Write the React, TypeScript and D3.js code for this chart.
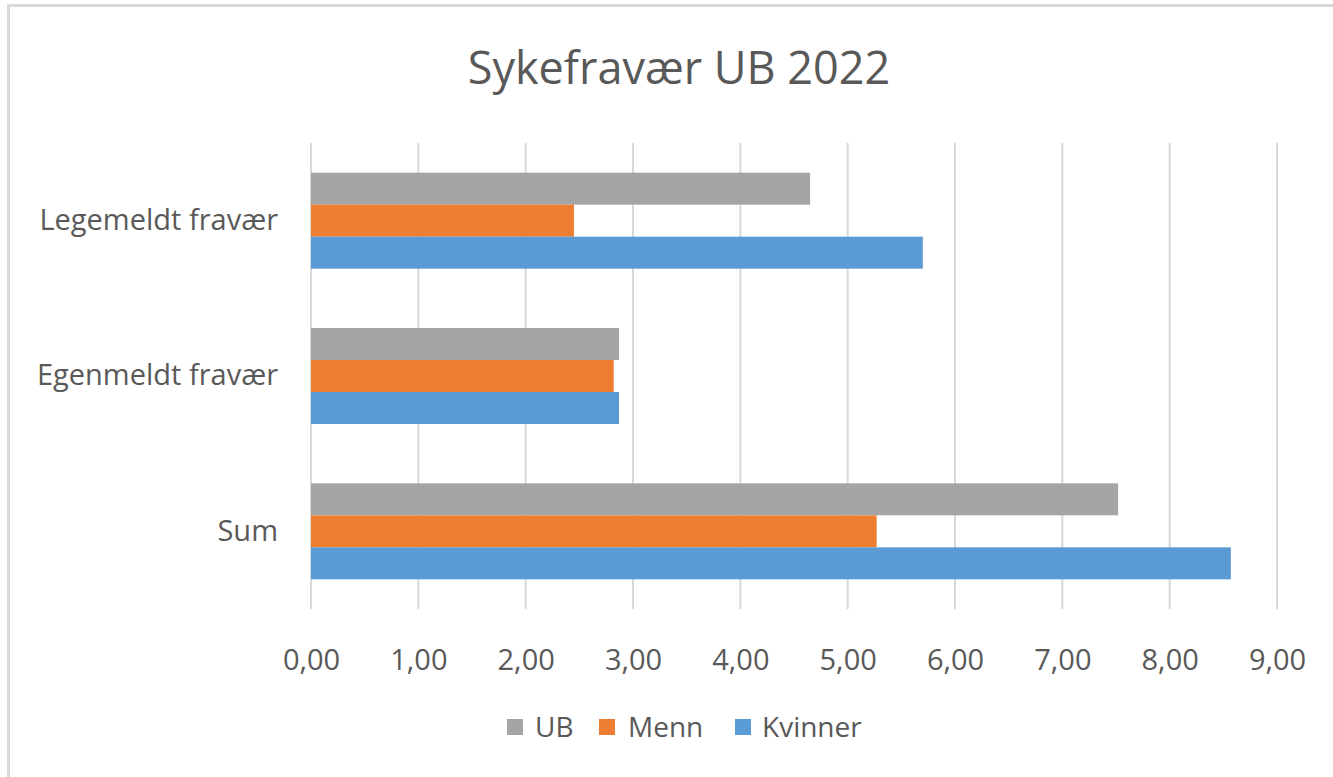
import React, { useEffect, useRef } from "react";
import * as d3 from "d3";

const categories = ["Legemeldt fravær", "Egenmeldt fravær", "Sum"];
const seriesNames = ["UB", "Menn", "Kvinner"];
const ubValues = [4.65, 2.87, 7.52];
const mennValues = [2.45, 2.82, 5.27];
const kvinnerValues = [5.7, 2.87, 8.57];
const seriesColors = ["#a5a5a5", "#ed7d31", "#5b9bd5"];
const xTicks = [0, 1, 2, 3, 4, 5, 6, 7, 8, 9];

const App = () => {
  const svgRef = useRef<SVGSVGElement | null>(null);
  const width = 1333;
  const height = 777;
  const margin = { top: 143, right: 56, bottom: 168, left: 311 };
  const font = "'Open Sans', sans-serif";
  const textColor = "#595959";

  useEffect(() => {
    const svg = d3.select(svgRef.current).attr("width", width).attr("height", height);
    svg.selectAll("*").remove();

    const values = [ubValues, mennValues, kvinnerValues];

    const x = d3
      .scaleLinear()
      .domain([0, 9])
      .range([margin.left, width - margin.right]);

    const y0 = d3
      .scaleBand()
      .domain(categories)
      .range([margin.top, height - margin.bottom])
      .paddingInner(0.382)
      .paddingOuter(0.191);

    const y1 = d3
      .scaleBand()
      .domain(seriesNames)
      .range([0, y0.bandwidth()]);

    const color = d3.scaleOrdinal<string, string>().domain(seriesNames).range(seriesColors);

    // chart border (only top/left visible in the crop)
    svg
      .append("rect")
      .attr("x", 8.5)
      .attr("y", 5.5)
      .attr("width", width + 20)
      .attr("height", height + 20)
      .attr("fill", "white")
      .attr("stroke", "#d9d9d9")
      .attr("stroke-width", 3);

    // title
    svg
      .append("text")
      .attr("x", 679)
      .attr("y", 84)
      .attr("text-anchor", "middle")
      .style("font-family", font)
      .style("font-size", "45px")
      .attr("fill", textColor)
      .text("Sykefravær UB 2022");

    // gridlines
    svg
      .append("g")
      .selectAll("line")
      .data(xTicks)
      .enter()
      .append("line")
      .attr("x1", (d) => x(d))
      .attr("x2", (d) => x(d))
      .attr("y1", margin.top)
      .attr("y2", height - margin.bottom)
      .attr("stroke", "#d9d9d9")
      .attr("stroke-width", 2);

    // bars
    const group = svg
      .append("g")
      .selectAll("g")
      .data(categories)
      .enter()
      .append("g")
      .attr("transform", (d) => `translate(0,${y0(d)})`);

    group
      .selectAll("rect")
      .data((d, i) => seriesNames.map((s, j) => ({ key: s, value: values[j][i] })))
      .enter()
      .append("rect")
      .attr("x", x(0))
      .attr("y", (d) => y1(d.key) as number)
      .attr("width", (d) => x(d.value) - x(0))
      .attr("height", y1.bandwidth())
      .attr("fill", (d) => color(d.key));

    // x axis labels
    const xAxis = svg
      .append("g")
      .attr("transform", `translate(0,${height - margin.bottom})`)
      .call(
        d3
          .axisBottom(x)
          .tickValues(xTicks)
          .tickSize(0)
          .tickPadding(40)
          .tickFormat((d) => d3.format(".2f")(d as number).replace(".", ","))
      );
    xAxis.select(".domain").remove();
    xAxis
      .selectAll("text")
      .style("font-family", font)
      .style("font-size", "29px")
      .attr("fill", textColor);

    // y axis labels
    const yAxis = svg
      .append("g")
      .attr("transform", `translate(${margin.left},0)`)
      .call(d3.axisLeft(y0).tickSize(0).tickPadding(33));
    yAxis.select(".domain").remove();
    yAxis
      .selectAll("text")
      .style("font-family", font)
      .style("font-size", "29px")
      .attr("fill", textColor);

    // legend
    const legendItems = [
      { key: "UB", sx: 507, tx: 535 },
      { key: "Menn", sx: 599, tx: 628 },
      { key: "Kvinner", sx: 735, tx: 762 },
    ];
    const legend = svg.append("g").attr("class", "legend");
    const item = legend.selectAll("g").data(legendItems).enter().append("g");
    item
      .append("rect")
      .attr("x", (d) => d.sx)
      .attr("y", 719)
      .attr("width", 16)
      .attr("height", 16)
      .attr("fill", (d) => color(d.key));
    item
      .append("text")
      .attr("x", (d) => d.tx)
      .attr("y", 737)
      .style("font-family", font)
      .style("font-size", "28px")
      .attr("fill", textColor)
      .text((d) => d.key);
  }, []);

  return (
    <svg
      ref={svgRef}
      style={{ position: "absolute", left: 0, top: 0, display: "block" }}
    ></svg>
  );
};

export default App;
